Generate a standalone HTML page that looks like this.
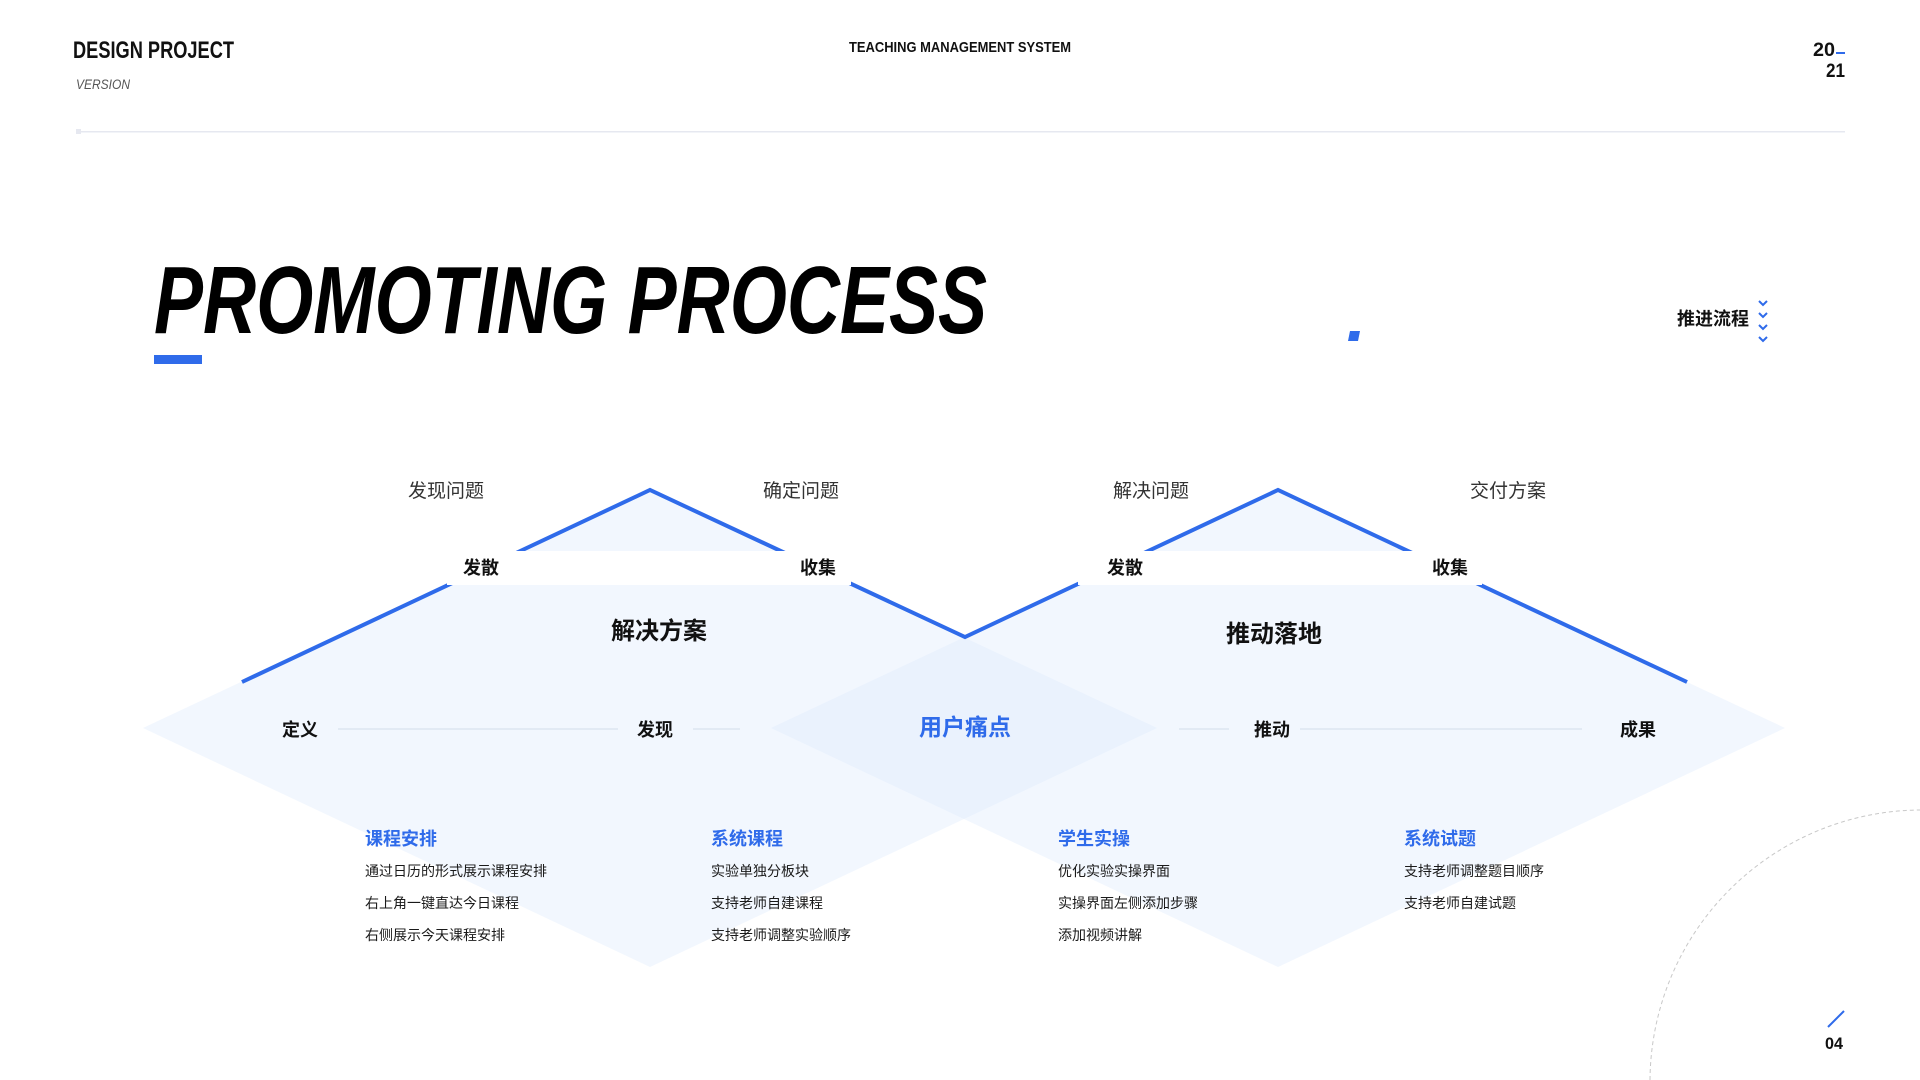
<!DOCTYPE html>
<html><head><meta charset="utf-8"><style>
html,body{margin:0;padding:0;background:#fff;width:1920px;height:1080px;overflow:hidden;}
svg{display:block;}
text{font-family:"Liberation Sans","Noto Sans CJK SC",sans-serif;}
</style></head><body>
<svg width="1920" height="1080" viewBox="0 0 1920 1080" xmlns="http://www.w3.org/2000/svg">
<!-- header -->
<text x="73" y="58" font-size="24" font-weight="bold" fill="#111" textLength="161" lengthAdjust="spacingAndGlyphs">DESIGN PROJECT</text>
<text x="76" y="89" font-size="14" font-style="italic" fill="#555" textLength="54" lengthAdjust="spacingAndGlyphs">VERSION</text>
<text x="960" y="52" font-size="15" font-weight="bold" fill="#111" text-anchor="middle" textLength="222" lengthAdjust="spacingAndGlyphs">TEACHING MANAGEMENT SYSTEM</text>
<text x="1813" y="56" font-size="19" font-weight="bold" fill="#111" textLength="22" lengthAdjust="spacingAndGlyphs">20</text>
<rect x="1836" y="52" width="9" height="2" fill="#2f6bea"/>
<text x="1845" y="77" font-size="19" font-weight="bold" fill="#111" text-anchor="end" textLength="19" lengthAdjust="spacingAndGlyphs">21</text>
<rect x="76" y="129" width="5" height="5" fill="#e6e8f0"/>
<rect x="81" y="131" width="1764" height="1.5" fill="#e6e8f0"/>
<!-- title -->
<text x="154" y="333" font-size="96" font-weight="bold" font-style="italic" fill="#000" textLength="833" lengthAdjust="spacingAndGlyphs">PROMOTING PROCESS</text>
<rect x="154" y="355" width="48" height="9" fill="#2f6bea"/>
<polygon points="1350,331 1360,331 1358,341 1348,341" fill="#2f6bea"/>
<text x="1749" y="325" font-size="18" font-weight="bold" fill="#111" text-anchor="end">推进流程</text>
<g fill="none" stroke="#2f6bea" stroke-width="2">
<polyline points="1759,301 1763,305 1767,301"/>
<polyline points="1759,313 1763,317 1767,313"/>
<polyline points="1759,325 1763,329 1767,325"/>
<polyline points="1759,337 1763,341 1767,337"/>
</g>
<!-- diamonds -->
<polygon points="650,490 1157,728 650,967 143,728" fill="#dcebfc" fill-opacity="0.38"/>
<polygon points="1278,490 1785,728 1278,967 771,728" fill="#dcebfc" fill-opacity="0.38"/>
<!-- blue zigzag -->
<polyline points="242,682 650,490 965,637 1278,490 1687,682" fill="none" stroke="#2f6bea" stroke-width="4" stroke-linejoin="miter"/>
<!-- white bands -->
<rect x="447" y="551" width="404" height="34" fill="#fff"/>
<rect x="1078" y="551" width="404" height="34" fill="#fff"/>
<!-- top labels -->
<g font-size="19" fill="#333" text-anchor="middle">
<text x="446" y="497">发现问题</text>
<text x="801" y="497">确定问题</text>
<text x="1151" y="497">解决问题</text>
<text x="1508" y="497">交付方案</text>
</g>
<g font-size="18" font-weight="bold" fill="#111" text-anchor="middle">
<text x="481" y="574">发散</text>
<text x="818" y="574">收集</text>
<text x="1125" y="574">发散</text>
<text x="1450" y="574">收集</text>
</g>
<g font-size="24" font-weight="bold" fill="#111" text-anchor="middle">
<text x="659" y="639">解决方案</text>
<text x="1274" y="642">推动落地</text>
</g>
<!-- middle row -->
<g stroke="#dce5f0" stroke-width="1.5">
<line x1="338" y1="729" x2="618" y2="729"/>
<line x1="693" y1="729" x2="740" y2="729"/>
<line x1="1179" y1="729" x2="1229" y2="729"/>
<line x1="1300" y1="729" x2="1582" y2="729"/>
</g>
<g font-size="18" font-weight="bold" fill="#111" text-anchor="middle">
<text x="300" y="736">定义</text>
<text x="655" y="736">发现</text>
<text x="1272" y="736">推动</text>
<text x="1638" y="736">成果</text>
</g>
<text x="965" y="735" font-size="23" font-weight="bold" fill="#2f6bea" text-anchor="middle">用户痛点</text>
<!-- columns -->
<g font-size="18" font-weight="bold" fill="#2f6bea">
<text x="365" y="845">课程安排</text>
<text x="711" y="845">系统课程</text>
<text x="1058" y="845">学生实操</text>
<text x="1404" y="845">系统试题</text>
</g>
<g font-size="14" fill="#1a1a1a">
<text x="365" y="876">通过日历的形式展示课程安排</text>
<text x="365" y="908">右上角一键直达今日课程</text>
<text x="365" y="940">右侧展示今天课程安排</text>
<text x="711" y="876">实验单独分板块</text>
<text x="711" y="908">支持老师自建课程</text>
<text x="711" y="940">支持老师调整实验顺序</text>
<text x="1058" y="876">优化实验实操界面</text>
<text x="1058" y="908">实操界面左侧添加步骤</text>
<text x="1058" y="940">添加视频讲解</text>
<text x="1404" y="876">支持老师调整题目顺序</text>
<text x="1404" y="908">支持老师自建试题</text>
</g>
<!-- corner -->
<path d="M1650,1080 A272,272 0 0 1 1920,810" fill="none" stroke="#c8c8c8" stroke-width="1" stroke-dasharray="4,3"/>
<line x1="1828" y1="1027" x2="1844" y2="1011" stroke="#2f6bea" stroke-width="2"/>
<text x="1834" y="1049" font-size="17" font-weight="bold" fill="#111" text-anchor="middle" textLength="18" lengthAdjust="spacingAndGlyphs">04</text>
</svg>
</body></html>
